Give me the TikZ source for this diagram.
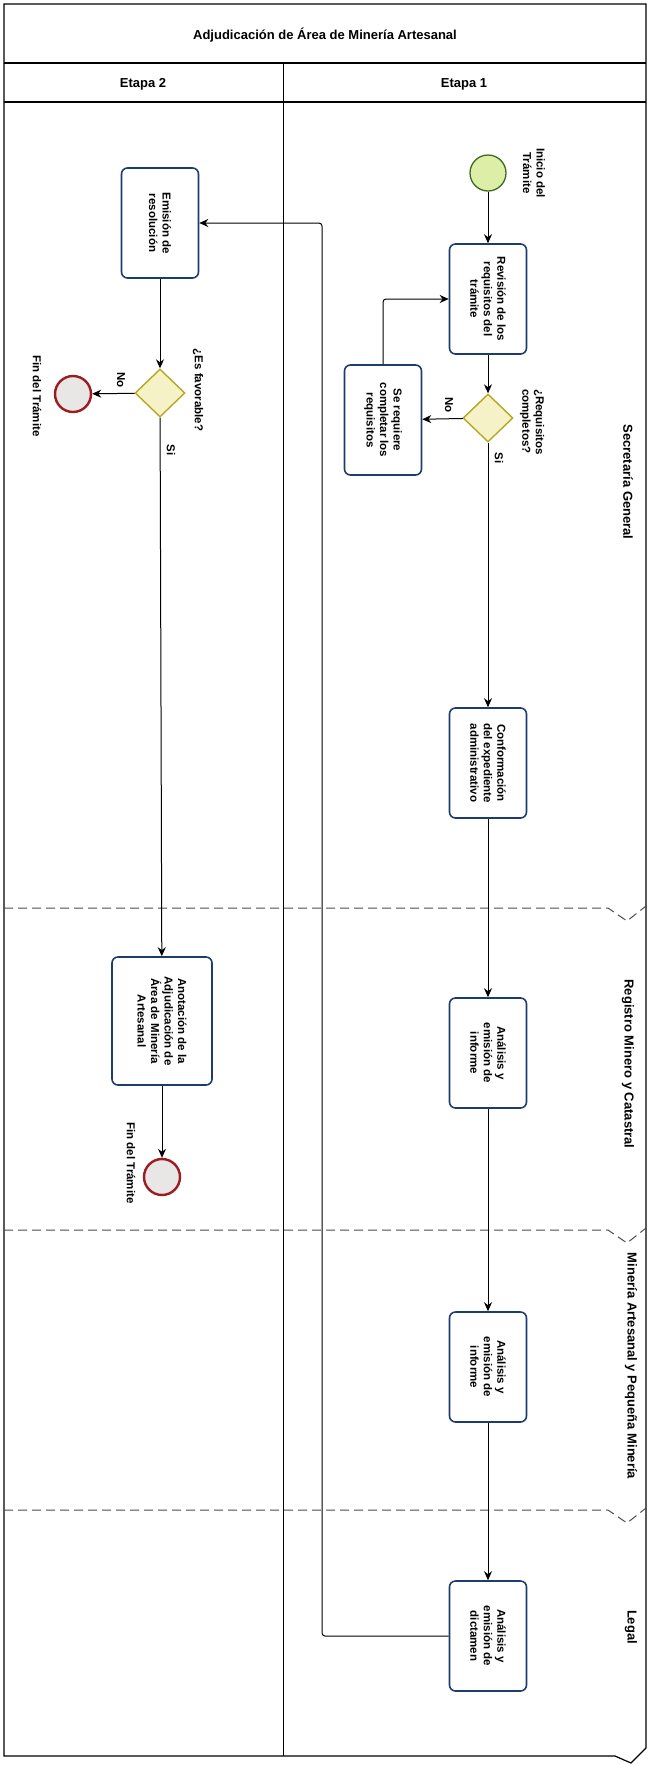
\documentclass[tikz,border=0pt]{standalone}
\usepackage{fontspec}
\setmainfont{Liberation Sans}
\usetikzlibrary{shapes.geometric,arrows.meta}
\definecolor{taskblue}{HTML}{1C3C70}
\definecolor{gateedge}{HTML}{B5A81E}
\definecolor{gatefill}{HTML}{F4F2C6}
\definecolor{startedge}{HTML}{3E6A1E}
\definecolor{startfill}{HTML}{DDEFA6}
\definecolor{endedge}{HTML}{9C1C1F}
\definecolor{endfill}{HTML}{E9E6E6}
\begin{document}
\begin{tikzpicture}[x=1pt,y=-1pt,font=\fontsize{11.5}{13.5}\selectfont\bfseries,
    task/.style={draw=taskblue,line width=1.6pt,fill=white,rounded corners=6pt,
      rotate=-90,minimum width=110pt,minimum height=77pt,align=center,inner sep=2pt},
    gate/.style={diamond,draw=gateedge,fill=gatefill,line width=1.4pt,
      minimum width=50pt,minimum height=48pt,inner sep=0pt},
    startev/.style={circle,draw=startedge,fill=startfill,line width=1.3pt,
      minimum size=36pt,inner sep=0pt},
    endev/.style={circle,draw=endedge,fill=endfill,line width=2.4pt,
      minimum size=36pt,inner sep=0pt},
    tag/.style={rotate=-90,align=center,inner sep=1pt},
    lane/.style={rotate=-90,font=\fontsize{13}{15}\selectfont\bfseries},
    flow/.style={-{Stealth[length=9pt,width=8pt]},line width=1pt,rounded corners=3pt},
    lanesep/.style={dash pattern=on 9pt off 5pt,draw=black!70,line width=1pt}]
  \useasboundingbox (0,0) rectangle (650,1765);
  % pool frame
  \draw[line width=1.2pt] (4,1756) -- (4,4) -- (646,4) -- (646,1748) -- (631,1763) -- (615,1756) -- cycle;
  \draw[line width=1.2pt] (4,63) -- (646,63);
  \draw[line width=1.2pt] (4,102) -- (646,102);
  \draw[line width=1pt] (283,63) -- (283,1756);
  \draw[lanesep] (4,908) -- (608,908) -- (627,921) -- (646,906);
  \draw[lanesep] (4,1230) -- (608,1230) -- (627,1243) -- (646,1228);
  \draw[lanesep] (4,1510) -- (608,1510) -- (627,1523) -- (646,1508);
  \node[font=\fontsize{13}{15}\selectfont\bfseries] (titulo) at (325,35) {Adjudicación de Área de Minería Artesanal};
  \node[font=\fontsize{13}{15}\selectfont\bfseries] (etapa2) at (143,84) {Etapa 2};
  \node[font=\fontsize{13}{15}\selectfont\bfseries] (etapa1) at (464,84) {Etapa 1};
  \node[lane] (secretaria) at (628,482) {Secretaría General};
  \node[lane] (registroLane) at (628,1064) {Registro Minero y Catastral};
  \node[lane] (mineriaLane) at (631,1366) {Minería Artesanal y Pequeña Minería};
  \node[lane] (legalLane) at (631,1627) {Legal};
  % Etapa 1
  \node[startev] (inicio) at (488,173) {};
  \node[tag] (inicioTxt) at (534,173) {Inicio del\\Trámite};
  \node[task] (revision) at (488,299) {Revisión de los\\requisitos del\\trámite};
  \node[gate] (requisitos) at (488,418) {};
  \node[tag,align=left] (requisitosTxt) at (532,422) {¿Requisitos\\completos?};
  \node[task] (completar) at (383,420) {Se requiere\\completar los\\requisitos};
  \node[tag] (noReq) at (449,405) {No};
  \node[tag] (siReq) at (499,458) {Si};
  \node[task] (conformacion) at (488,763) {Conformación\\del expediente\\administrativo};
  \node[task] (registro) at (488,1053) {Análisis y\\emisión de\\informe};
  \node[task] (artesanal) at (488,1367) {Análisis y\\emisión de\\informe};
  \node[task] (legal) at (488,1636) {Análisis y\\emisión de\\dictamen};
  \coordinate (retorno) at (322,223);
  % Etapa 2
  \node[task] (emision) at (160,223) {Emisión de\\resolución};
  \node[gate] (favorable) at (160,393) {};
  \node[tag] (favorableTxt) at (198,390) {¿Es favorable?};
  \node[endev] (fin1) at (73,394) {};
  \node[tag] (fin1Txt) at (37,396) {Fin del Trámite};
  \node[tag] (noFav) at (121,380) {No};
  \node[tag] (siFav) at (171,450) {Si};
  \node[task,minimum width=128pt,minimum height=100pt] (anotacion) at (162,1021) {Anotación de la\\Adjudicación de\\Área de Minería\\Artesanal};
  \node[endev] (fin2) at (162,1177) {};
  \node[tag] (fin2Txt) at (131,1163) {Fin del Trámite};
  \begin{scope}[flow]
    \draw (inicio) to (revision);
    \draw (revision) to (requisitos);
    \draw (requisitos) to (completar);
    \draw (completar) |- (revision);
    \draw (requisitos) to (conformacion);
    \draw (conformacion) to (registro);
    \draw (registro) to (artesanal);
    \draw (artesanal) to (legal);
    \draw (legal) -| (retorno) -- (emision);
    \draw (emision) to (favorable);
    \draw (favorable) to (fin1);
    \draw (favorable) to (anotacion);
    \draw (anotacion) to (fin2);
  \end{scope}
\end{tikzpicture}
\end{document}
